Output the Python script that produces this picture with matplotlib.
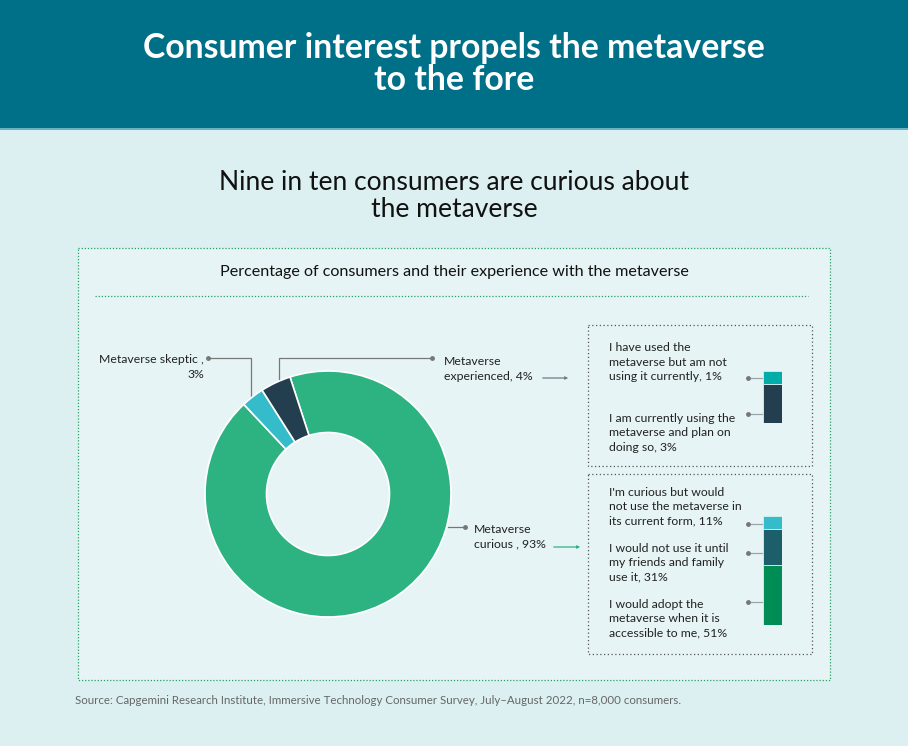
import matplotlib
matplotlib.use("Agg")
from matplotlib import pyplot as plt
import matplotlib.patches as patches

plt.rcParams['font.family'] = ['Lato', 'DejaVu Sans']

# donut data
segments = ["Metaverse curious", "Metaverse skeptic", "Metaverse experienced"]
segment_values = [93, 3, 4]
segment_colors = ["#2db381", "#35bccb", "#233e4e"]

# breakdown of the experienced group (bottom to top)
experienced_labels = ["I am currently using the\nmetaverse and plan on\ndoing so, 3%",
                      "I have used the\nmetaverse but am not\nusing it currently, 1%"]
experienced_values = [3, 1]
experienced_colors = ["#233e4e", "#00ada8"]

# breakdown of the curious group (bottom to top)
curious_labels = ["I would adopt the\nmetaverse when it is\naccessible to me, 51%",
                  "I would not use it until\nmy friends and family\nuse it, 31%",
                  "I'm curious but would\nnot use the metaverse in\nits current form, 11%"]
curious_values = [51, 31, 11]
curious_colors = ["#008c55", "#1c5f6b", "#35bccb"]

title = "Consumer interest propels the metaverse\nto the fore"
subtitle = "Nine in ten consumers are curious about\nthe metaverse"
box_title = "Percentage of consumers and their experience with the metaverse"
source = "Source: Capgemini Research Institute, Immersive Technology Consumer Survey, July\u2013August 2022, n=8,000 consumers."

W, H = 908, 746
fig = plt.figure(figsize=(W / 100, H / 100), dpi=100, facecolor="#dcf0f1")


def px_axes(x0, y0, x1, y1):
    return fig.add_axes([x0 / W, 1 - y1 / H, (x1 - x0) / W, (y1 - y0) / H])


# overlay in pixel coordinates
ov = px_axes(0, 0, W, H)
ov.set_xlim(0, W)
ov.set_ylim(H, 0)
ov.axis("off")
ov.set_zorder(0)

ov.add_patch(patches.Rectangle((0, 0), W, 128, color="#006f88", lw=0))
ov.plot([0, W], [128.5, 128.5], color="#4fa6b8", lw=1.2)
ov.text(W / 2, 64, title, ha="center", va="center", color="white",
        fontsize=24.3, fontweight="bold", linespacing=1.0)
ov.text(W / 2, 196, subtitle, ha="center", va="center", color="#111111",
        fontsize=19.1, linespacing=1.1)

ov.add_patch(patches.Rectangle((78, 248), 752, 432, facecolor="#e6f4f5",
                               edgecolor="#2a9d62", lw=0.9, ls=(0, (1, 1.5))))
ov.text(454, 272, box_title, ha="center", va="center", color="#111111", fontsize=11.6)
ov.plot([95, 808], [296, 296], color="#2a9d62", lw=0.9, ls=(0, (1, 1.5)))

for y0, y1 in [(325, 466), (474, 654)]:
    ov.add_patch(patches.Rectangle((588, y0), 224, y1 - y0, facecolor="none",
                                   edgecolor="#555555", lw=0.9, ls=(0, (1, 2))))

ov.text(75, 701, source, ha="left", va="center", color="#666666", fontsize=8.25)

lab = dict(fontsize=8.8, color="#222222", linespacing=1.35)
grey = "#777777"

# donut callouts
ov.text(204, 367, "Metaverse skeptic ,\n3%", ha="right", va="center", multialignment="right", **lab)
ov.plot([208, 251, 251], [358, 358, 398], color=grey, lw=0.9)
ov.plot([208], [358], "o", color=grey, ms=2.5)

ov.text(444, 369, "Metaverse\nexperienced, 4%", ha="left", va="center", **lab)
ov.plot([432, 279, 279], [358, 358, 382], color=grey, lw=0.9)
ov.plot([432], [358], "o", color=grey, ms=2.5)
ov.annotate("", xy=(571, 378), xytext=(540, 378),
            arrowprops=dict(arrowstyle="-|>", color="#6b7d88", lw=0.9, mutation_scale=4))

ov.text(474, 537, "Metaverse\ncurious , 93%", ha="left", va="center", **lab)
ov.plot([448, 465], [527, 527], color=grey, lw=0.9)
ov.plot([465], [527], "o", color=grey, ms=2.5)
ov.annotate("", xy=(583, 547), xytext=(551, 547),
            arrowprops=dict(arrowstyle="-|>", color="#2db381", lw=0.9, mutation_scale=4))

# donut
ax = px_axes(205, 371, 451, 617)
ax.set_zorder(1)
ax.patch.set_alpha(0)
ax.pie(segment_values, colors=segment_colors, startangle=108, counterclock=False,
       radius=1, wedgeprops=dict(width=0.5, edgecolor="white", linewidth=1.2))
ax.set_xlim(-1, 1)
ax.set_ylim(-1, 1)
ax.axis("off")


def stacked(box, values, colors, labels, label_y, tick_y):
    bx = px_axes(*box)
    bx.set_zorder(1)
    bx.patch.set_alpha(0)
    bottom = 0
    for v, c in zip(values, colors):
        bx.bar(0, v, bottom=bottom, width=1, color=c, edgecolor="#dcefef", lw=0.6)
        bottom += v
    bx.set_xlim(-0.5, 0.5)
    bx.set_ylim(0, bottom)
    bx.axis("off")
    for text, ty, ky in zip(labels, label_y, tick_y):
        ov.text(609, ty, text, ha="left", va="center", **lab)
        ov.plot([748, 763], [ky, ky], color="#9aa5aa", lw=0.9)
        ov.plot([748], [ky], "o", color=grey, ms=2.5)


stacked((763, 371, 782, 423), experienced_values, experienced_colors,
        experienced_labels, [433, 362], [414, 378])
stacked((763, 516, 782, 625), curious_values, curious_colors,
        curious_labels, [619, 563, 507], [602, 553, 524])

fig.savefig("out.png", dpi=100, facecolor=fig.get_facecolor())
